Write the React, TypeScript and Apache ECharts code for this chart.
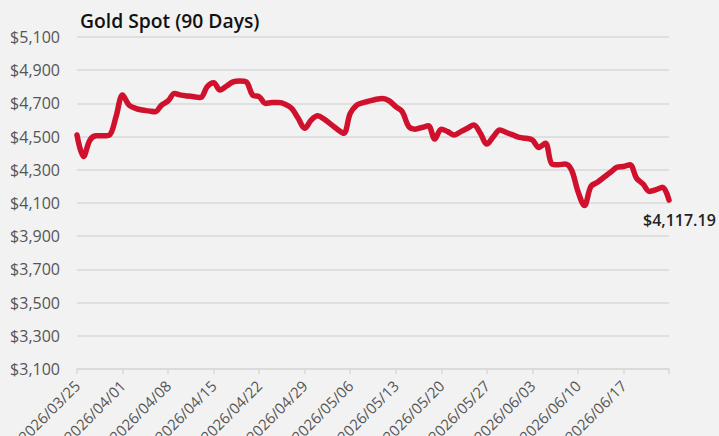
import React, { useEffect, useRef } from "react";
import * as echarts from "echarts";

const dates: string[] = [
  "2026/03/25", "2026/03/26", "2026/03/27", "2026/03/28", "2026/03/29", "2026/03/30", "2026/03/31",
  "2026/04/01", "2026/04/02", "2026/04/03", "2026/04/04", "2026/04/05", "2026/04/06", "2026/04/07",
  "2026/04/08", "2026/04/09", "2026/04/10", "2026/04/11", "2026/04/12", "2026/04/13", "2026/04/14",
  "2026/04/15", "2026/04/16", "2026/04/17", "2026/04/18", "2026/04/19", "2026/04/20", "2026/04/21",
  "2026/04/22", "2026/04/23", "2026/04/24", "2026/04/25", "2026/04/26", "2026/04/27", "2026/04/28",
  "2026/04/29", "2026/04/30", "2026/05/01", "2026/05/02", "2026/05/03", "2026/05/04", "2026/05/05",
  "2026/05/06", "2026/05/07", "2026/05/08", "2026/05/09", "2026/05/10", "2026/05/11", "2026/05/12",
  "2026/05/13", "2026/05/14", "2026/05/15", "2026/05/16", "2026/05/17", "2026/05/18", "2026/05/19",
  "2026/05/20", "2026/05/21", "2026/05/22", "2026/05/23", "2026/05/24", "2026/05/25", "2026/05/26",
  "2026/05/27", "2026/05/28", "2026/05/29", "2026/05/30", "2026/05/31", "2026/06/01", "2026/06/02",
  "2026/06/03", "2026/06/04", "2026/06/05", "2026/06/06", "2026/06/07", "2026/06/08", "2026/06/09",
  "2026/06/10", "2026/06/11", "2026/06/12", "2026/06/13", "2026/06/14", "2026/06/15", "2026/06/16",
  "2026/06/17", "2026/06/18", "2026/06/19", "2026/06/20", "2026/06/21", "2026/06/22", "2026/06/23",
  "2026/06/24",
];

const goldPrice: number[] = [
  4510, 4380, 4480, 4505, 4505, 4510, 4620,
  4750, 4690, 4670, 4660, 4655, 4650, 4690,
  4715, 4760, 4750, 4745, 4740, 4735, 4800,
  4825, 4780, 4805, 4830, 4835, 4830, 4750,
  4740, 4700, 4705, 4705, 4695, 4670, 4610,
  4550, 4600, 4625, 4605, 4575, 4545, 4520,
  4640, 4690, 4705, 4715, 4725, 4730, 4715,
  4680, 4650, 4560, 4545, 4555, 4565, 4485,
  4545, 4530, 4510, 4530, 4550, 4570, 4520,
  4455, 4500, 4540, 4525, 4510, 4495, 4490,
  4480, 4435, 4460, 4335, 4330, 4335, 4300,
  4170, 4085, 4200, 4225, 4255, 4285, 4315,
  4320, 4330, 4250, 4215, 4170, 4180, 4195,
  4117.19,
];

const yTicks = { min: 3100, max: 5100, interval: 200 };
const titleText = "Gold Spot (90 Days)";

const fmtMoney = (v: number, d = 0) =>
  "$" + v.toLocaleString("en-US", { minimumFractionDigits: d, maximumFractionDigits: d });

const RED = "#d0112e";

export default function App() {
  const ref = useRef<HTMLDivElement>(null);
  useEffect(() => {
    if (!ref.current) return;
    const chart = echarts.init(ref.current, null, { renderer: "svg" });
    chart.setOption({
      animation: false,
      backgroundColor: "#f2f2f2",
      textStyle: { fontFamily: "Open Sans" },
      title: {
        text: titleText,
        left: 75,
        top: 6,
        textStyle: { fontSize: 19.3, fontWeight: 600, color: "#111", fontFamily: "Open Sans" },
      },
      grid: {
        left: 77,
        right: 50,
        top: 37,
        bottom: 67,
        containLabel: false,
        outerBoundsMode: "none",
      },
      xAxis: {
        type: "category",
        data: dates,
        boundaryGap: false,
        axisLine: { lineStyle: { color: "#d9d9d9", width: 1.5 } },
        axisTick: { interval: 6, length: 5, lineStyle: { color: "#d9d9d9", width: 1.5 } },
        axisLabel: {
          interval: (i: number) => i % 7 === 0 && i < dates.length - 1,
          rotate: 45,
          color: "#555",
          fontSize: 15,
          margin: 14,
          fontFamily: "Open Sans",
        },
        splitLine: { show: false },
      },
      yAxis: {
        type: "value",
        min: yTicks.min,
        max: yTicks.max,
        interval: yTicks.interval,
        axisLine: { show: false },
        axisTick: { show: false },
        axisLabel: {
          formatter: (v: number) => fmtMoney(v),
          color: "#555",
          fontSize: 16,
          margin: 17,
          fontFamily: "Open Sans",
        },
        splitLine: { lineStyle: { color: "#d9d9d9", width: 1.5 } },
      },
      series: [
        {
          type: "line",
          data: goldPrice,
          smooth: 0.35,
          showSymbol: false,
          symbol: "none",
          lineStyle: { color: RED, width: 5.5, cap: "round", join: "round" },
          itemStyle: { color: RED },
          endLabel: {
            show: true,
            formatter: (p: any) => fmtMoney(p.value, 2),
            distance: 8,
            offset: [-34, 20],
            color: "#222",
            fontSize: 16,
            fontWeight: 600,
            fontFamily: "Open Sans",
          },
        },
      ],
    });
    return () => chart.dispose();
  }, []);
  return (
    <div
      ref={ref}
      style={{ position: "fixed", left: 0, top: 0, width: 719, height: 436, background: "#f2f2f2" }}
    />
  );
}
